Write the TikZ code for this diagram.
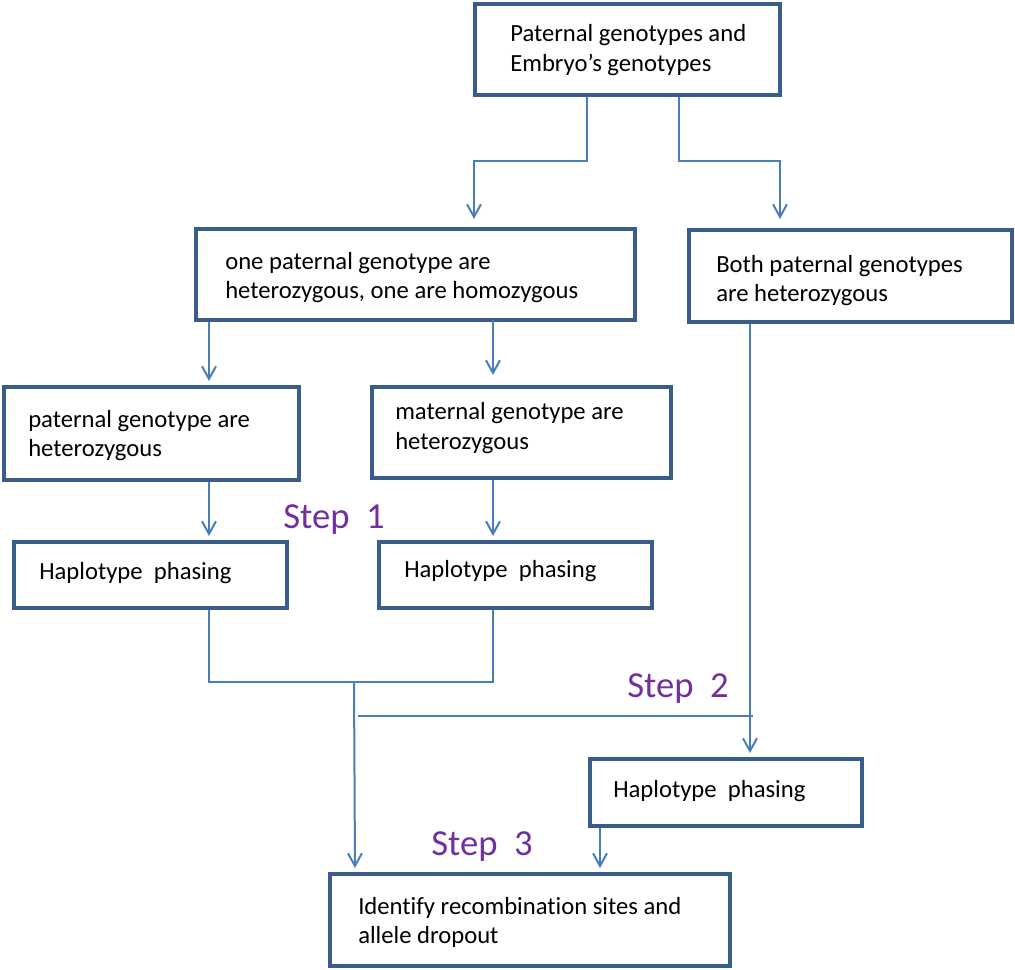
\documentclass[tikz,border=0pt]{standalone}
\usepackage{fontspec}
\setmainfont[Ligatures=NoCommon]{Carlito}
\usetikzlibrary{arrows.meta,calc}
\definecolor{boxblue}{RGB}{56,93,138}
\definecolor{linkblue}{RGB}{74,126,187}
\definecolor{steppurple}{RGB}{112,48,160}
\begin{document}
\begin{tikzpicture}[x=0.75pt,y=-0.75pt,
  box/.style={draw=boxblue,line width=3pt,fill=white,inner sep=0pt},
  txt/.style={anchor=west,align=left,inner sep=0pt,font=\fontsize{18.5pt}{22pt}\selectfont},
  steplabel/.style={anchor=base west,inner sep=0pt,text=steppurple,font=\fontsize{27.5pt}{30pt}\selectfont},
  conn/.style={draw=linkblue,line width=1.5pt},
  arr/.style={conn,-{Straight Barb[length=9.5pt,width=10.5pt,line width=1.5pt]}}]
\useasboundingbox (0,0) rectangle (1015,970);
% boxes
\node[box,minimum width=228.75pt,minimum height=68.6pt] (top) at (627.5,49.25) {};
\node[box,minimum width=329.25pt,minimum height=68.25pt] (A) at (415.5,275) {};
\node[box,minimum width=242.25pt,minimum height=69pt] (B) at (850.5,276.5) {};
\node[box,minimum width=221.25pt,minimum height=69.75pt] (C) at (151.5,433) {};
\node[box,minimum width=224.25pt,minimum height=68.25pt] (D) at (521.5,432) {};
\node[box,minimum width=204.75pt,minimum height=49.5pt] (E) at (150.5,574.5) {};
\node[box,minimum width=204.75pt,minimum height=49.5pt] (F) at (515.5,574.5) {};
\node[box,minimum width=204pt,minimum height=50.25pt] (G) at (726,792) {};
\node[box,minimum width=300pt,minimum height=69pt] (H) at (530,919.5) {};
% texts
\node[txt] (topt) at (510,50) {Paternal genotypes and\\Embryo’s genotypes};
\node[txt] (At) at (225,277.5) {one paternal genotype are\\heterozygous, one are homozygous};
\node[txt] (Bt) at (716,280.5) {Both paternal genotypes\\are heterozygous};
\node[txt] (Ct) at (28,435.5) {paternal genotype are\\heterozygous};
\node[txt] (Dt) at (395,428) {maternal genotype are\\heterozygous};
\node[txt] (Et) at (39,573) {Haplotype\ \ phasing};
\node[txt] (Ft) at (404,571) {Haplotype\ \ phasing};
\node[txt] (Gt) at (613,791) {Haplotype\ \ phasing};
\node[txt] (Ht) at (358,922.5) {Identify recombination sites and\\allele dropout};
% step labels
\node[steplabel] (s1) at (283,528) {Step\ \ 1};
\node[steplabel] (s2) at (627,697) {Step\ \ 2};
\node[steplabel] (s3) at (431,855) {Step\ \ 3};
% connectors
\draw[arr] ($(top.south)+(-40.5,0)$) -- ++(0,64) -| ($(A.north)+(58.5,-8.5)$);
\draw[arr] ($(top.south)+(51.5,0)$) -- ++(0,64) -| ($(B.north)+(-70.5,-9.5)$);
\draw[arr] ($(A.south)+(-206.5,0)$) -- ($(C.north)+(57.5,-3.5)$);
\draw[arr] ($(A.south)+(77.5,-2)$) -- ($(D.north)+(-28.5,-9.5)$);
\draw[arr] ($(C.south)+(57.5,0)$) -- ($(E.north)+(58.5,-3.5)$);
\draw[arr] ($(D.south)+(-28.5,0)$) -- ($(F.north)+(-22.5,-3.5)$);
\draw[conn] ($(E.south)+(58.5,0)$) -- ++(0,72.5) coordinate (jl) -| ($(F.south)+(-22.5,0)$);
\coordinate (j) at ($(E.south)+(203.5,72.5)$);
\draw[arr] (j) -- ($(H.north)+(-175,-3.5)$);
\coordinate (h1) at (358,716);
\coordinate (h2) at (753,716);
\draw[conn] (h1) -- (h2);
\draw[arr] ($(B.south)+(-100.5,0)$) -- ($(G.north)+(24,-3.5)$);
\draw[arr] ($(G.south)+(-126,0)$) -- ($(H.north)+(70,-3.5)$);
\end{tikzpicture}
\end{document}
